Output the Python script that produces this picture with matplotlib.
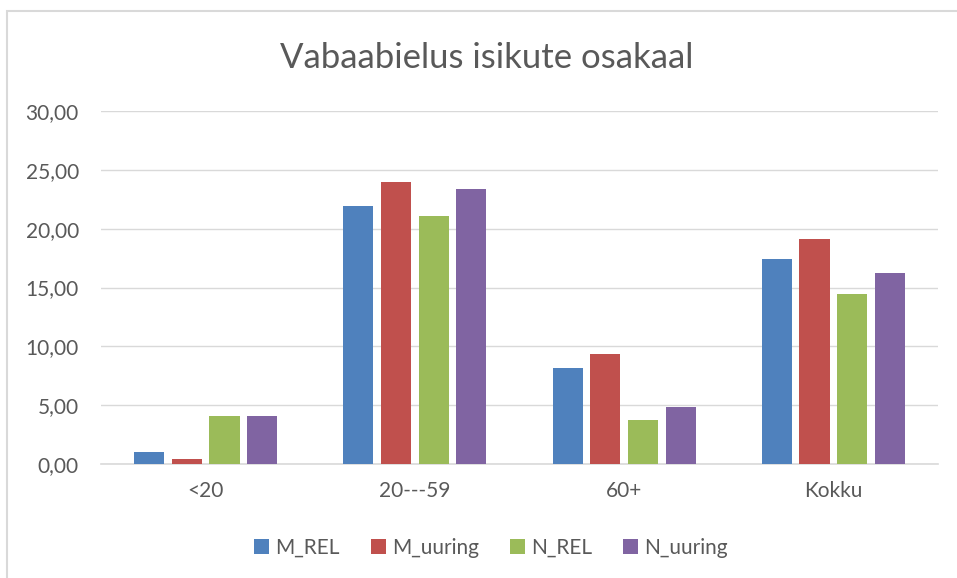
import numpy as np
import matplotlib.pyplot as plt
from matplotlib.patches import Rectangle

categories = ['<20', '20---59', '60+', 'Kokku']
series_names = ['M_REL', 'M_uuring', 'N_REL', 'N_uuring']
m_rel = [1.0, 21.9, 8.2, 17.4]
m_uuring = [0.4, 24.0, 9.35, 19.1]
n_rel = [4.05, 21.1, 3.7, 14.45]
n_uuring = [4.1, 23.35, 4.85, 16.2]
colors = ['#4F81BD', '#C0504D', '#9BBB59', '#8064A2']

plt.rcParams['font.family'] = ['Lato', 'DejaVu Sans']
txt = '#595959'

fig = plt.figure(figsize=(9.57, 5.78), dpi=100)
W, H = 957, 578
ax = fig.add_axes([101 / W, 1 - 464 / H, (938 - 101) / W, (464 - 111) / H])

# chart border (right and bottom edges fall outside the picture)
fig.patches.append(Rectangle((7 / W, -0.1), 1.2, 1.1 - 11 / H, transform=fig.transFigure,
                             fill=False, edgecolor='#D9D9D9', linewidth=1.5))

x = np.arange(len(categories))
bw = 0.144
step = 0.18
for i, (vals, name) in enumerate(zip([m_rel, m_uuring, n_rel, n_uuring], series_names)):
    ax.bar(x + (i - 1.5) * step, vals, width=bw, color=colors[i], label=name, zorder=3)

ax.set_xlim(-0.5, 3.5)
ax.set_ylim(0, 30)
ax.set_yticks(np.arange(0, 31, 5))
ax.set_yticklabels(['{:.2f}'.format(v).replace('.', ',') for v in np.arange(0, 31, 5)])
ax.set_xticks(x)
ax.set_xticklabels(categories)
ax.grid(axis='y', color='#D9D9D9', linewidth=1, zorder=0)
for s in ['top', 'right', 'left']:
    ax.spines[s].set_visible(False)
ax.spines['bottom'].set_color('#D9D9D9')
ax.spines['bottom'].set_linewidth(1.2)
ax.tick_params(axis='both', length=0, labelsize=15, colors=txt)
ax.tick_params(axis='y', pad=16)
ax.tick_params(axis='x', pad=12)

fig.text(487 / W, 1 - 58 / H, 'Vabaabielus isikute osakaal', ha='center', va='center',
         fontsize=25, color=txt)

fig.legend(loc='center', bbox_to_anchor=(491 / W, 1 - 548 / H), ncol=4, frameon=False,
           fontsize=15, labelcolor=txt, handlelength=0.7, handleheight=0.7,
           handletextpad=0.3, columnspacing=1.5)

fig.savefig('out.png', dpi=100)
